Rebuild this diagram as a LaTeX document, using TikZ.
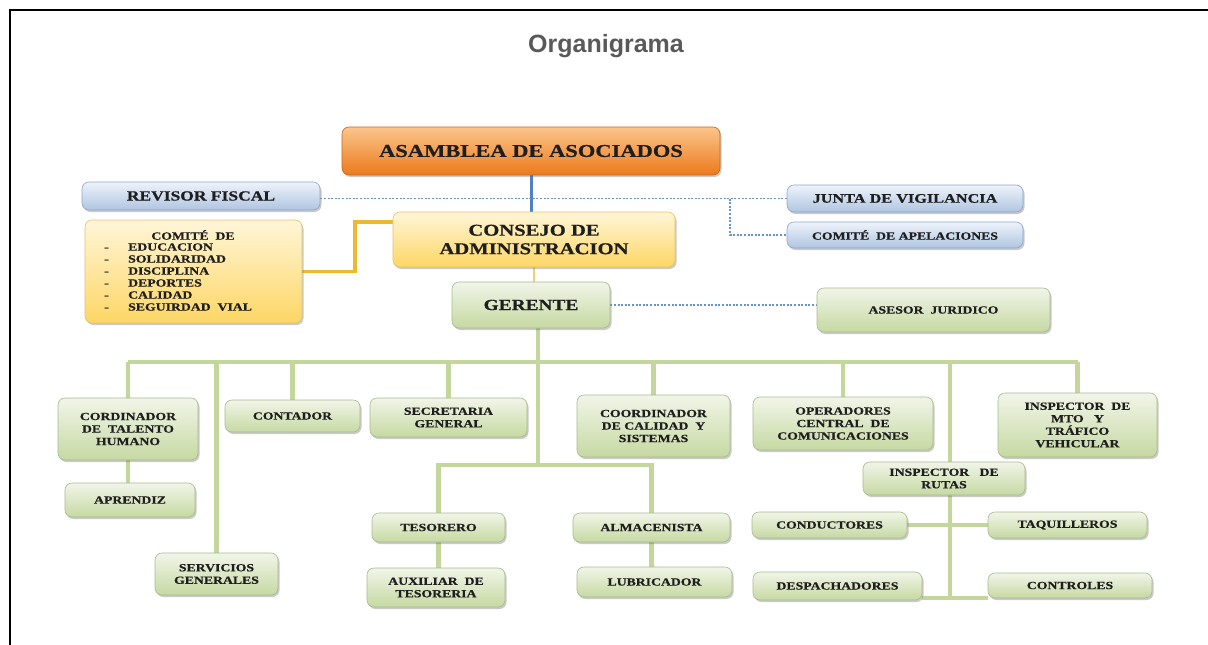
\documentclass[tikz,border=0pt]{standalone}
\usepackage{fontspec}
\setmainfont{Liberation Serif}
\newfontfamily\boxfont{Liberation Serif}[FakeStretch=1.25, BoldFeatures={FakeBold=0.6}]
\newfontfamily\titlefont{Liberation Sans}
\usetikzlibrary{shadows}
\definecolor{gtop}{HTML}{F1F5E8}
\definecolor{gbot}{HTML}{C6D9A2}
\definecolor{gline}{HTML}{C3D69B}
\definecolor{gborder}{HTML}{A9B98E}
\definecolor{otop}{HTML}{FBC58C}
\definecolor{obot}{HTML}{EC7A1C}
\definecolor{oborder}{HTML}{C8661A}
\definecolor{btop}{HTML}{EEF3FA}
\definecolor{bbot}{HTML}{AFC5E2}
\definecolor{bborder}{HTML}{8EA6C6}
\definecolor{ytop}{HTML}{FFF6D8}
\definecolor{ybot}{HTML}{FDD664}
\definecolor{yborder}{HTML}{E2C26A}
\definecolor{blueline}{HTML}{4F81BD}
\definecolor{goldline}{HTML}{EDB92F}
\definecolor{yline}{HTML}{F5CF6A}
\definecolor{txt}{HTML}{1E1E1E}
\definecolor{titlegray}{HTML}{595959}
\pgfdeclarelayer{background}
\pgfsetlayers{background,main}
\tikzset{
  box/.style={rounded corners=7pt, line width=0.6pt, inner sep=2pt, align=center,
    text=txt, font=\boxfont\bfseries\fontsize{11}{12.5}\selectfont,
    drop shadow={shadow xshift=1.5pt, shadow yshift=-2pt, opacity=0.35, fill=black!60}},
  gbox/.style={box, draw=gborder, top color=gtop, bottom color=gbot},
  obox/.style={box, draw=oborder, top color=otop, bottom color=obot},
  bbox/.style={box, draw=bborder, top color=btop, bottom color=bbot},
  ybox/.style={box, draw=yborder, top color=ytop, bottom color=ybot},
  gconn/.style={draw=gline, line width=4.5pt},
  dotconn/.style={draw=blueline!85, dash pattern=on 2pt off 1.6pt, line width=1.8pt},
  bconn/.style={draw=blueline, line width=3pt},
  goldconn/.style={draw=goldline, line width=3.5pt},
  yconn/.style={draw=yline, line width=2.5pt}
}
\begin{document}
\begin{tikzpicture}[x=1pt,y=-1pt]
\useasboundingbox (0,0) rectangle (1208,645);
\draw[line width=2pt] (9.5,645) -- (9.5,10) -- (1208,10);
\node[text=titlegray, font=\titlefont\bfseries\fontsize{25}{28}\selectfont] (title) at (606,46) {Organigrama};

% top level
\node[obox, minimum width=378, minimum height=48, font=\boxfont\bfseries\fontsize{18}{20}\selectfont] (asam) at (531,151) {ASAMBLEA DE ASOCIADOS};
\node[bbox, minimum width=238, minimum height=28, font=\boxfont\bfseries\fontsize{14}{16}\selectfont] (rev) at (201,196) {REVISOR FISCAL};
\node[bbox, minimum width=236, minimum height=27, font=\boxfont\bfseries\fontsize{13}{15}\selectfont] (junta) at (905,198.5) {JUNTA DE VIGILANCIA};
\node[bbox, minimum width=236, minimum height=26, font=\boxfont\bfseries\fontsize{11}{13}\selectfont] (apel) at (905,235) {COMITÉ\ \ DE APELACIONES};
\node[ybox, minimum width=282, minimum height=55, font=\boxfont\bfseries\fontsize{16.5}{18.5}\selectfont] (consejo) at (534,239.5) {CONSEJO DE\\ADMINISTRACION};
\node[ybox, minimum width=217, minimum height=103] (comite) at (193.5,271.5) {};
\node[text=txt, font=\boxfont\bfseries\fontsize{11}{12}\selectfont] (comt) at (193,235) {COMITÉ\ \ DE};
\node[anchor=north west, inner sep=0pt, text=txt, font=\boxfont\bfseries\fontsize{11}{12}\selectfont] (coml) at (104,242) {%
\begin{tabular}{@{}p{24pt}@{}l@{}}
- & EDUCACION\\
- & SOLIDARIDAD\\
- & DISCIPLINA\\
- & DEPORTES\\
- & CALIDAD\\
- & SEGUIRDAD\ \ VIAL
\end{tabular}};
\node[gbox, minimum width=158, minimum height=46, font=\boxfont\bfseries\fontsize{15.5}{17}\selectfont] (ger) at (531,305) {GERENTE};
\node[gbox, minimum width=233, minimum height=44] (ases) at (933.5,310) {ASESOR\ \ JURIDICO};

% second level
\node[gbox, minimum width=140, minimum height=62] (cth) at (128,429) {CORDINADOR\\DE\ \ TALENTO\\HUMANO};
\node[gbox, minimum width=130, minimum height=34] (apr) at (130,500) {APRENDIZ};
\node[gbox, minimum width=123, minimum height=42] (serv) at (216.5,574) {SERVICIOS\\GENERALES};
\node[gbox, minimum width=135, minimum height=32] (cont) at (292.5,416) {CONTADOR};
\node[gbox, minimum width=157, minimum height=39] (secr) at (448.5,417.5) {SECRETARIA\\GENERAL};
\node[gbox, minimum width=153, minimum height=62] (ccs) at (653.5,426) {COORDINADOR\\DE CALIDAD\ \ Y\\SISTEMAS};
\node[gbox, minimum width=133, minimum height=29] (tes) at (438.5,527.5) {TESORERO};
\node[gbox, minimum width=138, minimum height=39] (aux) at (436,587.5) {AUXILIAR\ \ DE\\TESORERIA};
\node[gbox, minimum width=157, minimum height=29] (alm) at (651.5,527.5) {ALMACENISTA};
\node[gbox, minimum width=155, minimum height=30] (lub) at (654.5,582) {LUBRICADOR};
\node[gbox, minimum width=180, minimum height=53] (oper) at (843,423.5) {OPERADORES\\CENTRAL\ \ DE\\COMUNICACIONES};
\node[gbox, minimum width=159, minimum height=64] (mto) at (1077.5,425) {INSPECTOR\ \ DE\\MTO\ \ \ Y\\TRÁFICO\\VEHICULAR};
\node[gbox, minimum width=162, minimum height=33] (irut) at (944,478.5) {INSPECTOR\ \ \ DE\\RUTAS};
\node[gbox, minimum width=155, minimum height=26] (cond) at (829.5,525) {CONDUCTORES};
\node[gbox, minimum width=159, minimum height=26] (taq) at (1067.5,525) {TAQUILLEROS};
\node[gbox, minimum width=169, minimum height=28] (desp) at (837.5,586) {DESPACHADORES};
\node[gbox, minimum width=164, minimum height=25] (ctrl) at (1070,585.5) {CONTROLES};

\coordinate (bus) at (0,362);
\coordinate (gv) at (538,465);
\coordinate (rv) at (950,598);
\coordinate (dj) at (730,0);
\coordinate (gk) at (355,222);

\begin{pgfonlayer}{background}
% top connectors
\draw[bconn] (asam.south) -- (asam.south |- consejo.north);
\draw[dotconn] (rev.east |- junta.west) -- (junta.west);
\draw[dotconn] (dj |- junta.west) -- (dj |- apel.west) -- (apel.west);
\draw[goldconn] (comite.east) -| (gk) -- (gk -| consejo.west);
\draw[yconn] (consejo.south) -- (consejo.south |- ger.north);
\draw[dotconn] (ger.east) -- (ger.east -| ases.west);
% green tree
\draw[gconn] (ger.south -| gv) -- (gv);
\draw[gconn] (cth.north |- bus) -- (mto.north |- bus);
\draw[gconn] (cth.north |- bus) -- (cth.north);
\draw[gconn] (cth.south) -- (cth.south |- apr.north);
\draw[gconn] (serv.north |- bus) -- (serv.north);
\draw[gconn] (cont.north |- bus) -- (cont.north);
\draw[gconn] (secr.north |- bus) -- (secr.north);
\draw[gconn] (ccs.north |- bus) -- (ccs.north);
\draw[gconn] (oper.north |- bus) -- (oper.north);
\draw[gconn] (mto.north |- bus) -- (mto.north);
\draw[gconn] (tes.north) -- (tes.north |- gv) -- (alm.north |- gv) -- (alm.north);
\draw[gconn] (tes.south) -- (tes.south |- aux.north);
\draw[gconn] (alm.south) -- (alm.south |- lub.north);
\draw[gconn] (rv |- bus) -- (rv);
\draw[gconn] (cond.east) -- (taq.west);
\draw[gconn] (desp.east |- rv) -- (ctrl.west |- rv);
\end{pgfonlayer}
\end{tikzpicture}
\end{document}
